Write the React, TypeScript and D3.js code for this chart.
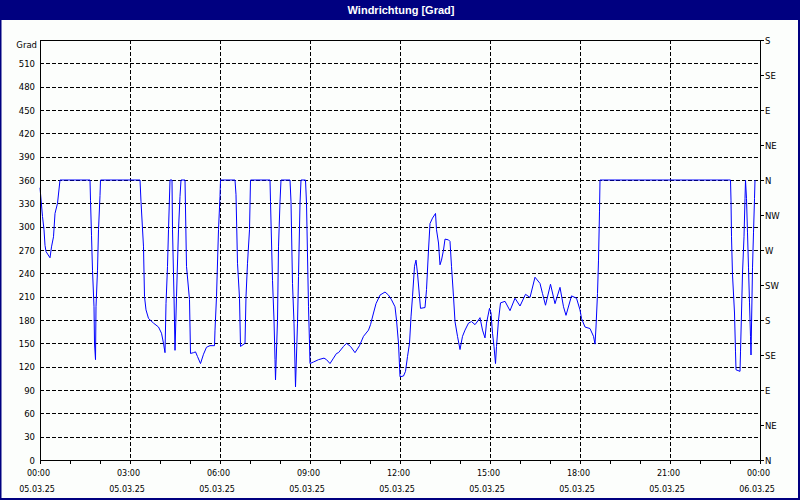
import React from "react";
import * as d3 from "d3";

// minutes since 05.03.25 00:00
const timesMin = [
  0, 5, 8, 10, 12, 20, 23, 27, 30, 35, 40, 100, 101, 103, 105, 108, 109, 111, 112, 115, 117, 120, 121,
  200, 202, 207, 209, 212, 217, 227, 237, 243, 247, 250, 252, 255, 257, 260, 264, 265, 268, 270, 273, 277, 280, 282,
  290, 293, 299, 301, 307, 311, 315, 321, 327, 333, 340, 349, 350, 353, 357, 360, 361,
  390, 392, 395, 399, 401, 410, 412, 415, 419, 421,
  460, 461, 465, 468, 470, 471, 475, 477, 480, 482,
  500, 502, 505, 508, 511, 515, 517, 520, 522, 531, 533, 537, 539, 540,
  547, 557, 568, 573, 580, 587, 593, 597, 607, 613, 621, 630, 639, 647, 657, 661, 667, 672, 680, 690, 697, 703, 710, 713, 717,
  720, 727, 731, 735, 739, 742, 745, 749, 752, 755, 759, 761, 770, 773, 777, 780, 785, 791, 793, 797, 800, 803, 807, 810, 817, 820,
  823, 827, 830, 835, 840, 845, 850, 857, 863, 870, 877, 880, 885, 890, 893, 899, 902, 905, 908, 911, 913, 917, 921, 930, 940,
  950, 960, 971, 980, 990, 1000, 1005, 1011, 1021, 1030, 1040, 1047, 1052, 1063, 1073, 1080, 1083, 1090, 1100, 1107, 1110,
  1112, 1115, 1117, 1119, 1120, 1381, 1382, 1383, 1385, 1389, 1391, 1392, 1400, 1401, 1403, 1405, 1408, 1410, 1411,
  1413, 1415, 1417, 1419, 1421, 1422, 1425, 1427, 1429, 1430,
];

const degrees = [
  350, 313, 296, 276, 268, 260, 274, 287, 317, 330, 360, 360, 334, 289, 244, 197, 150, 129, 197, 244, 296, 340, 360,
  360, 332, 274, 210, 193, 182, 176, 171, 163, 150, 138, 201, 249, 296, 360, 360, 296, 210, 141, 210, 296, 339, 360,
  360, 249, 206, 137, 138, 139, 133, 124, 136, 145, 147, 147, 167, 210, 296, 339, 360,
  360, 341, 253, 208, 146, 150, 210, 253, 296, 360,
  360, 332, 231, 180, 129, 103, 180, 274, 332, 360,
  360, 332, 227, 176, 94, 176, 236, 330, 360, 360, 330, 197, 150, 124,
  126, 129, 131, 129, 124, 131, 137, 138, 146, 150, 146, 138, 147, 159, 167, 174, 189, 201, 212, 216, 212, 206, 197, 180, 150,
  107, 108, 114, 133, 150, 184, 210, 249, 257, 240, 210, 195, 196, 219, 270, 304, 311, 317, 296, 279, 251, 257, 270, 284, 283, 281,
  249, 210, 178, 159, 142, 159, 167, 176, 178, 174, 180, 183, 167, 157, 176, 195, 189, 163, 146, 124, 146, 180, 202, 204, 192,
  208, 198, 213, 209, 235, 227, 214, 199, 226, 201, 222, 197, 186, 211, 208, 193, 182, 171, 169, 159, 149,
  171, 214, 257, 320, 360, 360, 334, 287, 238, 189, 139, 116, 114, 139, 189, 240, 287, 336, 360,
  336, 292, 247, 202, 159, 135, 247, 292, 336, 360,
];

const leftTicks = [0, 30, 60, 90, 120, 150, 180, 210, 240, 270, 300, 330, 360, 390, 420, 450, 480, 510];
const rightLabels = ["N", "NE", "E", "SE", "S", "SW", "W", "NW", "N", "NE", "E", "SE", "S"];
const xTickHours = [0, 3, 6, 9, 12, 15, 18, 21, 24];
const xTimeLabels = ["00:00", "03:00", "06:00", "09:00", "12:00", "15:00", "18:00", "21:00", "00:00"];
const xDateLabels = ["05.03.25", "05.03.25", "05.03.25", "05.03.25", "05.03.25", "05.03.25", "05.03.25", "05.03.25", "06.03.25"];

const W = 800;
const H = 500;
const L = 40, R = 760, T = 40, B = 460;
const FONT = "'DejaVu Sans', Verdana, sans-serif";
const TITLE_FONT = "'Liberation Sans', Arial, sans-serif";

export default function App() {
  const x = d3.scaleLinear().domain([0, 1440]).range([L, R]);
  const y = d3.scaleLinear().domain([0, 540]).range([B, T]);
  const pts = timesMin.map((t, i) => [t, degrees[i]] as [number, number]);
  const line = d3.line<[number, number]>().x((d) => x(d[0])).y((d) => y(d[1]));
  const hours = d3.range(0, 25);

  return (
    <div style={{ position: "fixed", left: 0, top: 0 }}>
      <svg width={W} height={H} style={{ display: "block" }} fontFamily={FONT}>
        <rect x={0} y={0} width={W} height={H} fill="#fcfefc" />
        {/* window frame */}
        <rect x={0} y={0} width={W} height={20} fill="#000080" />
        <rect x={0} y={0} width={1.5} height={H} fill="#000080" />
        <rect x={W - 2} y={0} width={2} height={H} fill="#000080" />
        <rect x={0} y={H - 2} width={W} height={2} fill="#000080" />
        <text x={401} y={14} textAnchor="middle" fill="#ffffff" fontSize={11} fontWeight="bold" fontFamily={TITLE_FONT}>
          Windrichtung [Grad]
        </text>

        {/* grid */}
        <g stroke="#000" strokeWidth={1} strokeDasharray="4,2" shapeRendering="crispEdges">
          {leftTicks.filter((v) => v > 0).map((v) => (
            <line key={"h" + v} x1={L} x2={R} y1={Math.round(y(v)) + 0.5} y2={Math.round(y(v)) + 0.5} />
          ))}
          {xTickHours.filter((h) => h > 0 && h < 24).map((h) => (
            <line key={"v" + h} x1={Math.round(x(h * 60)) + 0.5} x2={Math.round(x(h * 60)) + 0.5} y1={T} y2={B} />
          ))}
        </g>

        {/* data */}
        <path d={line(pts) || ""} fill="none" stroke="#0000ff" strokeWidth={1} strokeLinejoin="round" />

        {/* plot frame */}
        <rect x={L + 0.5} y={T + 0.5} width={R - L} height={B - T} fill="none" stroke="#000" strokeWidth={1} shapeRendering="crispEdges" />

        {/* ticks */}
        <g stroke="#000" shapeRendering="crispEdges">
          {hours.map((h) => (
            <line key={"xt" + h} x1={Math.round(x(h * 60)) + 0.5} x2={Math.round(x(h * 60)) + 0.5} y1={B} y2={B + 4} />
          ))}
          {rightLabels.map((_, i) => (
            <line key={"rt" + i} x1={R} x2={R + 4} y1={Math.round(y(i * 45)) + 0.5} y2={Math.round(y(i * 45)) + 0.5} />
          ))}
        </g>

        {/* left labels */}
        <g fontSize={8.5} fill="#000" textAnchor="end">
          {leftTicks.map((v) => (
            <text key={"lt" + v} x={35} y={y(v) + 3.5}>{v}</text>
          ))}
          <text x={37} y={48}>Grad</text>
        </g>

        {/* right labels */}
        <g fontSize={8.5} fill="#000" textAnchor="start">
          {rightLabels.map((s, i) => (
            <text key={"rl" + i} x={765} y={y(i * 45) + 3.5}>{s}</text>
          ))}
        </g>

        {/* x labels */}
        <g fontSize={8} fill="#000" textAnchor="middle">
          {xTickHours.map((h, i) => (
            <g key={"xl" + i}>
              <text x={x(h * 60) - 1.5} y={476}>{xTimeLabels[i]}</text>
              <text x={x(h * 60) - 3} y={492}>{xDateLabels[i]}</text>
            </g>
          ))}
        </g>
      </svg>
    </div>
  );
}
